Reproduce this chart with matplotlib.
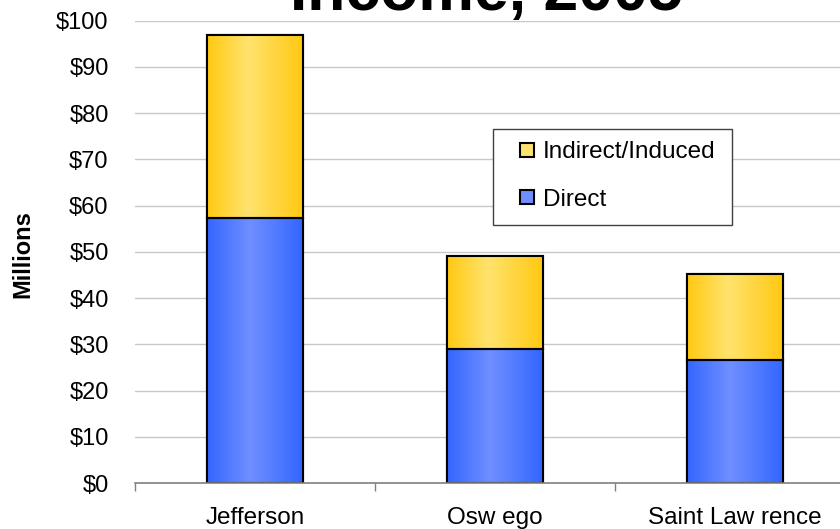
import numpy as np
import matplotlib
matplotlib.use("Agg")
import matplotlib.pyplot as plt
from matplotlib.colors import LinearSegmentedColormap
from matplotlib.patches import Rectangle

# ---- data ----
categories = ["Jefferson", "Osw ego", "Saint Law rence"]
direct = [57.3, 29.0, 26.6]
indirect = [39.7, 20.2, 18.7]
yticks = [0, 10, 20, 30, 40, 50, 60, 70, 80, 90, 100]
ytick_labels = ["$" + str(v) for v in yticks]
title = "Income, 2005"
ylabel = "Millions"
series_names = ["Direct", "Indirect/Induced"]

plt.rcParams['font.family'] = ['Liberation Sans', 'DejaVu Sans']

W, H = 840, 529
fig = plt.figure(figsize=(W / 100, H / 100), dpi=100)
ax = fig.add_axes([135 / W, 1 - 483 / H, 720 / W, (483 - 20.7) / H])

blue_edge, blue_mid = "#3366FF", "#6F8FFF"
yel_edge, yel_mid = "#FFC911", "#FFE36E"
cmap_blue = LinearSegmentedColormap.from_list(
    "b", [(0, blue_edge), (0.45, blue_mid), (1, blue_edge)])
cmap_yel = LinearSegmentedColormap.from_list(
    "y", [(0, yel_edge), (0.43, yel_mid), (1, yel_edge)])

x = np.arange(len(categories))
width = 0.4
b1 = ax.bar(x, direct, width, color=blue_edge, edgecolor="black",
            linewidth=1.5, zorder=3)
b2 = ax.bar(x, indirect, width, bottom=direct, color=yel_edge,
            edgecolor="black", linewidth=1.5, zorder=3)

grad = np.linspace(0, 1, 256).reshape(1, -1)
for bars, cmap in ((b1, cmap_blue), (b2, cmap_yel)):
    for p in bars:
        x0, y0 = p.get_x(), p.get_y()
        w, h = p.get_width(), p.get_height()
        im = ax.imshow(grad, cmap=cmap, aspect="auto",
                       extent=[x0, x0 + w, y0, y0 + h], zorder=3.5,
                       interpolation="bilinear")
        im.set_clip_path(p)
        ax.add_patch(Rectangle((x0, y0), w, h, fill=False,
                               edgecolor="black", linewidth=1.5, zorder=4))

ax.set_xlim(-0.5, 2.5)
ax.set_ylim(0, 100)
ax.set_yticks(yticks)
ax.set_yticklabels(ytick_labels, fontsize=17)
ax.tick_params(axis="y", length=0, pad=19)
ax.set_xticks(x)
ax.set_xticklabels(categories, fontsize=17.5)
ax.set_xticks([-0.5, 0.5, 1.5, 2.5], minor=True)
ax.tick_params(axis="x", which="major", length=0, pad=17)
ax.tick_params(axis="x", which="minor", length=6, direction="out",
               color="#808080", width=1)

ax.yaxis.grid(True, color="#C8C8C8", linewidth=1, zorder=0)
ax.set_axisbelow(True)
for s in ("left", "right", "top"):
    ax.spines[s].set_visible(False)
ax.spines["bottom"].set_color("#808080")
ax.spines["bottom"].set_linewidth(1.2)
ax.spines["bottom"].set_zorder(5)

fig.text(23 / W, 1 - 254 / H, ylabel, rotation=90, fontsize=17,
         fontweight="bold", ha="center", va="center")

fig.text(486 / W, 1 - 10 / H, title, fontsize=45, fontweight="bold",
         ha="center", va="baseline")

# legend box (pixel layout converted to figure fraction)
def fx(px):
    return px / W

def fy(py):
    return 1 - py / H

fig.patches.append(Rectangle((fx(493), fy(225)), fx(732) - fx(493),
                             fy(129) - fy(225), transform=fig.transFigure,
                             facecolor="white", edgecolor="#404040",
                             linewidth=1, zorder=10))
legend_items = [(series_names[1], yel_mid, 150), (series_names[0], blue_mid, 197)]
for label, col, cy in legend_items:
    fig.patches.append(Rectangle((fx(520), fy(cy + 7)), fx(534) - fx(520),
                                 fy(cy - 7) - fy(cy + 7),
                                 transform=fig.transFigure, facecolor=col,
                                 edgecolor="black", linewidth=1.5, zorder=11))
    fig.text(fx(543), fy(cy), label, fontsize=17.5, ha="left",
             va="center_baseline", zorder=12)

fig.savefig("out.png", dpi=100)
